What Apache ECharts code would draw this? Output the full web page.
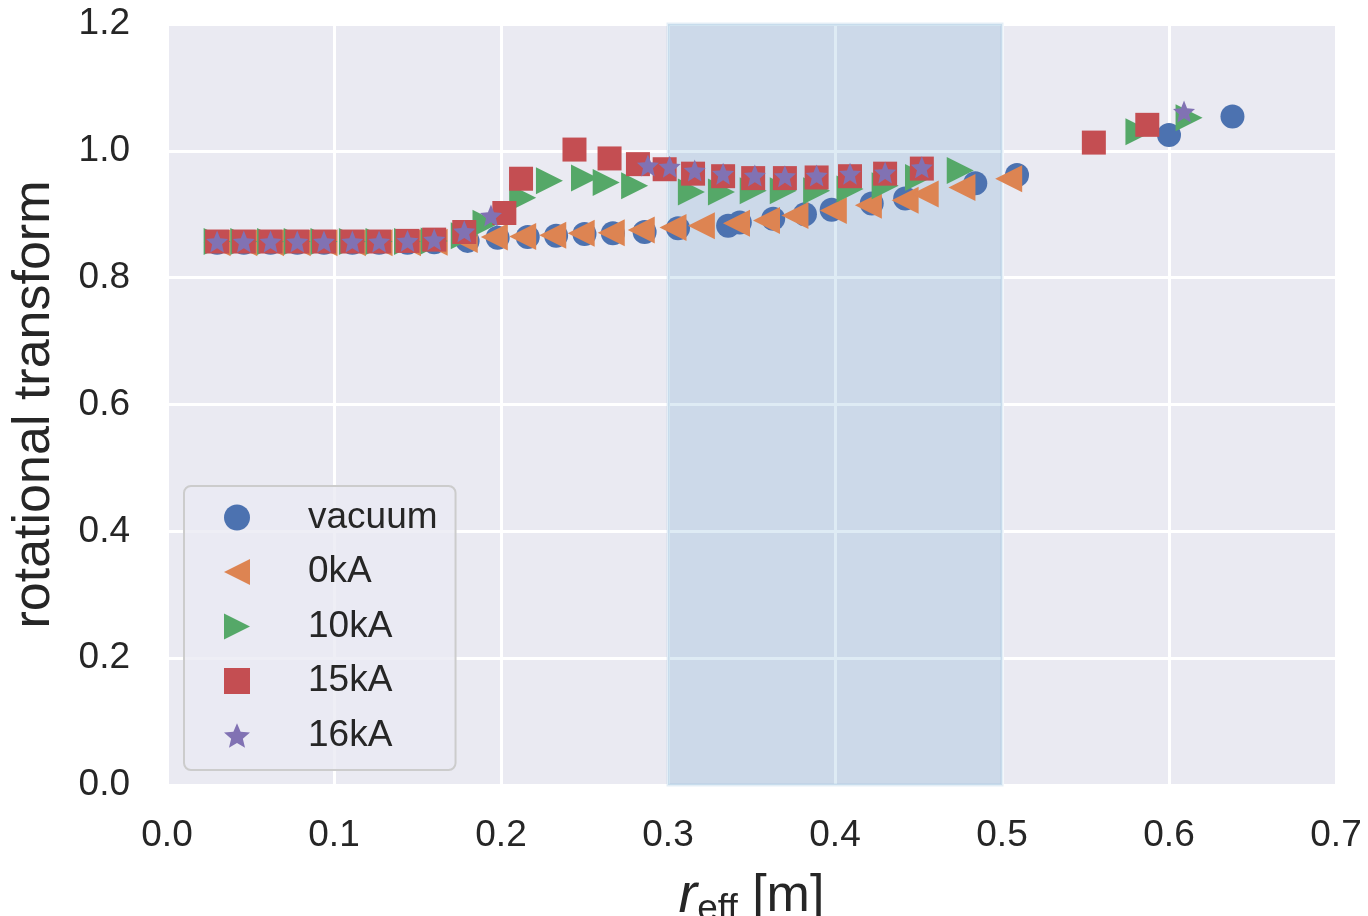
<!DOCTYPE html>
<html>
<head>
<meta charset="utf-8">
<style>html,body{margin:0;padding:0;background:#fff}#chart{width:1368px;height:916px}</style>
<script src="https://cdn.jsdelivr.net/npm/echarts@6/dist/echarts.min.js"></script>
</head>
<body>
<div id="chart"></div>
<script>
var seriesNames = ['vacuum', '0kA', '10kA', '15kA', '16kA'];
var flatX = [0.030, 0.046, 0.062, 0.078, 0.094, 0.111, 0.127, 0.144, 0.160];

var vacuumX = flatX.concat([0.180, 0.198, 0.216, 0.233, 0.250, 0.267, 0.286, 0.306, 0.336, 0.343, 0.363, 0.382, 0.398, 0.422, 0.442, 0.484, 0.509, 0.600, 0.638]);
var vacuumY = [0.855, 0.855, 0.855, 0.855, 0.855, 0.855, 0.855, 0.855, 0.856, 0.858, 0.863, 0.864, 0.866, 0.869, 0.870, 0.872, 0.878, 0.882, 0.887, 0.893, 0.900, 0.907, 0.917, 0.925, 0.949, 0.962, 1.025, 1.054];

var kA0X = flatX.concat([0.178, 0.196, 0.213, 0.231, 0.248, 0.266, 0.284, 0.303, 0.320, 0.341, 0.359, 0.376, 0.399, 0.420, 0.442, 0.454, 0.476, 0.504]);
var kA0Y = [0.855, 0.855, 0.855, 0.855, 0.855, 0.855, 0.855, 0.855, 0.856, 0.860, 0.864, 0.865, 0.867, 0.870, 0.871, 0.875, 0.879, 0.882, 0.886, 0.890, 0.898, 0.906, 0.914, 0.922, 0.932, 0.942, 0.956];

var kA10X = flatX.concat([0.178, 0.191, 0.213, 0.229, 0.250, 0.263, 0.280, 0.314, 0.332, 0.351, 0.369, 0.389, 0.409, 0.430, 0.450, 0.475, 0.582, 0.612]);
var kA10Y = [0.857, 0.857, 0.857, 0.857, 0.857, 0.857, 0.857, 0.857, 0.858, 0.866, 0.886, 0.926, 0.953, 0.957, 0.950, 0.945, 0.935, 0.935, 0.937, 0.937, 0.937, 0.940, 0.945, 0.958, 0.969, 1.030, 1.052];

var kA15X = flatX.concat([0.178, 0.202, 0.212, 0.244, 0.265, 0.282, 0.298, 0.315, 0.333, 0.351, 0.370, 0.389, 0.409, 0.430, 0.452, 0.555, 0.587]);
var kA15Y = [0.857, 0.857, 0.857, 0.857, 0.857, 0.857, 0.857, 0.858, 0.860, 0.872, 0.902, 0.956, 1.002, 0.988, 0.979, 0.971, 0.964, 0.960, 0.957, 0.957, 0.958, 0.960, 0.964, 0.972, 1.013, 1.041];

var kA16X = flatX.concat([0.178, 0.194, 0.288, 0.301, 0.316, 0.333, 0.352, 0.370, 0.389, 0.409, 0.430, 0.452, 0.609]);
var kA16Y = [0.857, 0.857, 0.857, 0.857, 0.857, 0.857, 0.857, 0.858, 0.860, 0.873, 0.898, 0.977, 0.975, 0.969, 0.964, 0.961, 0.960, 0.961, 0.964, 0.966, 0.974, 1.062];

var shadeRange = [0.3, 0.5];
var xTicks = [0, 0.7, 0.1];
var yTicks = [0, 1.2, 0.2];

function pairs(xs, ys) { return xs.map(function (x, i) { return [x, ys[i]]; }); }

var FONT = '"Liberation Sans", Arial, Helvetica, sans-serif';
var STAR = 'path://M50 0 L63.23 31.8 L97.55 34.55 L71.4 56.95 L79.39 90.45 L50 72.5 L20.61 90.45 L28.6 56.95 L2.45 34.55 L36.77 31.8 Z';
var TRI_LEFT = 'path://M0 50 L100 0 L100 100 Z';
var TRI_RIGHT = 'path://M0 0 L100 50 L0 100 Z';
var colors = ['#4C72B0', '#DD8452', '#55A868', '#C44E52', '#8172B3'];
var symbols = ['circle', TRI_LEFT, TRI_RIGHT, 'rect', STAR];
var sizes = [24, 27, 27, 24, 22];

var chart = echarts.init(document.getElementById('chart'), null, {renderer: 'canvas'});
var option = {
  animation: false,
  color: colors,
  grid: {left: 167, right: 32, top: 24, bottom: 131, show: true, backgroundColor: '#EAEAF2', borderWidth: 0, containLabel: false, outerBoundsMode: 'none'},
  xAxis: {
    type: 'value', min: xTicks[0], max: xTicks[1], interval: xTicks[2],
    axisLine: {show: false}, axisTick: {show: false},
    splitLine: {show: true, lineStyle: {color: '#ffffff', width: 3}},
    axisLabel: {fontSize: 37, color: '#262626', fontFamily: FONT, margin: 32, formatter: function (v) { return v.toFixed(1); }},
    name: '{r|r}{s|eff}{m| [m]}', nameLocation: 'middle', nameGap: 80,
    nameTextStyle: {
      color: '#262626', fontFamily: FONT,
      rich: {
        r: {fontSize: 56, fontStyle: 'italic', fontFamily: FONT, color: '#262626'},
        s: {fontSize: 37, fontFamily: FONT, color: '#262626', padding: [26, 0, 0, 0]},
        m: {fontSize: 52, fontFamily: FONT, color: '#262626'}
      }
    }
  },
  yAxis: {
    type: 'value', min: yTicks[0], max: yTicks[1], interval: yTicks[2],
    axisLine: {show: false}, axisTick: {show: false},
    splitLine: {show: true, lineStyle: {color: '#ffffff', width: 3}},
    axisLabel: {fontSize: 37, color: '#262626', fontFamily: FONT, margin: 37, formatter: function (v) { return v.toFixed(1); }},
    name: 'rotational transform', nameLocation: 'middle', nameRotate: 90, nameGap: 106,
    nameTextStyle: {fontSize: 52, color: '#262626', fontFamily: FONT}
  },
  legend: {
    data: seriesNames.map(function (n, i) { return {name: n, icon: symbols[i]}; }),
    orient: 'vertical', left: 184, top: 486,
    padding: [13, 18, 16, 40],
    itemWidth: 26, itemHeight: 26, itemGap: 17.5,
    backgroundColor: 'rgba(234,234,242,0.8)', borderColor: '#cccccc', borderWidth: 2, borderRadius: 7,
    textStyle: {fontSize: 37, color: '#262626', fontFamily: FONT, lineHeight: 36, padding: [0, 0, 0, 53]}
  },
  series: seriesNames.map(function (n, i) {
    var xs = [vacuumX, kA0X, kA10X, kA15X, kA16X][i];
    var ys = [vacuumY, kA0Y, kA10Y, kA15Y, kA16Y][i];
    return {name: n, type: 'scatter', symbol: symbols[i], symbolSize: sizes[i],
      data: pairs(xs, ys), itemStyle: {color: colors[i], opacity: 1}};
  }).concat([
    {name: 'span', type: 'scatter', data: [], z: 10, silent: true,
      markArea: {silent: true, itemStyle: {color: 'rgba(31,119,180,0.15)', borderColor: 'rgba(31,119,180,0.12)', borderWidth: 3},
        data: [[{xAxis: shadeRange[0]}, {xAxis: shadeRange[1]}]]}}
  ])
};
chart.setOption(option);
</script>
</body>
</html>
